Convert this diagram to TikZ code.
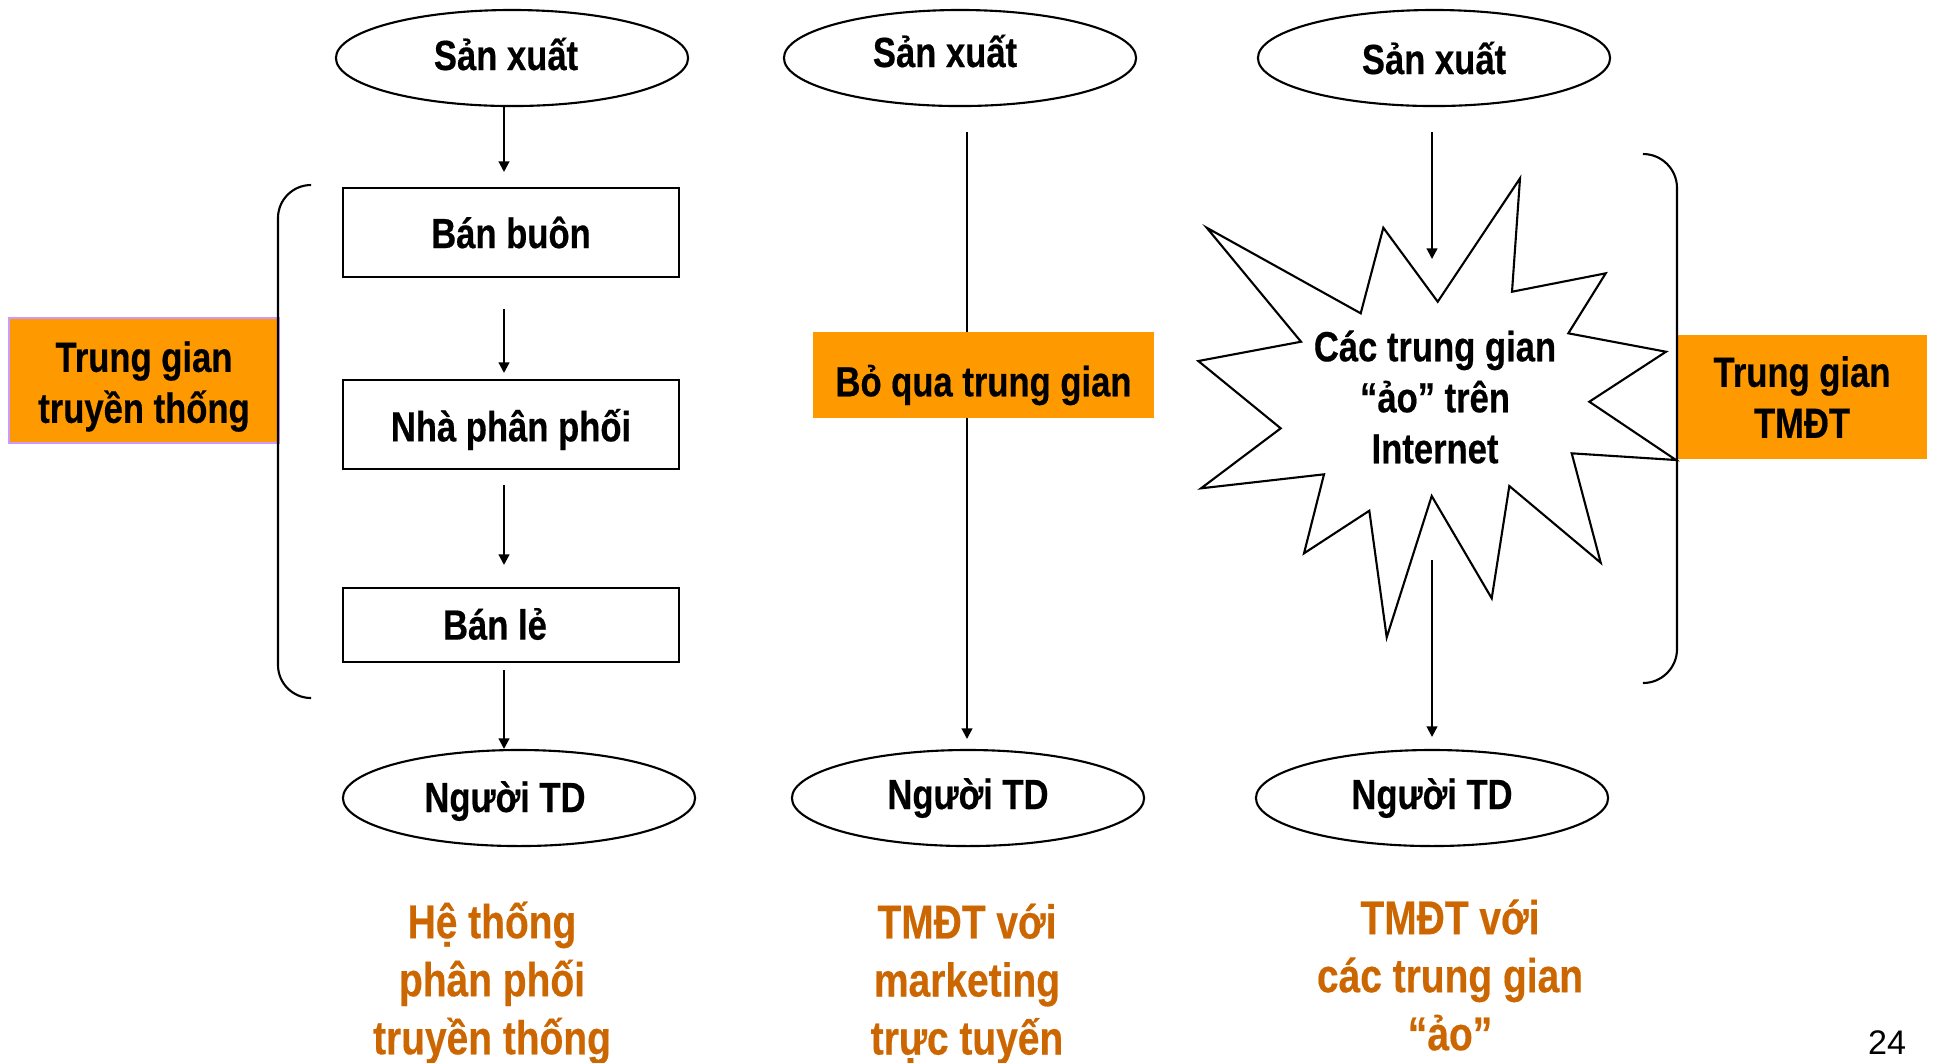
\documentclass[tikz,border=0pt]{standalone}
\usepackage{fontspec}
\setmainfont{Liberation Sans}
\newfontfamily\narrowfont{Liberation Sans}[FakeStretch=0.82, BoldFeatures={FakeBold=0.4}]
\usetikzlibrary{shapes.geometric,arrows.meta,calc}
\definecolor{boxorange}{HTML}{FF9900}
\definecolor{labelbrown}{HTML}{CC6600}
\definecolor{lilac}{HTML}{CC99FF}

\begin{document}
\begin{tikzpicture}[x=0.01cm,y=-0.01cm,
  every node/.style={inner sep=0pt, outer sep=0pt},
  txt/.style={font=\narrowfont\bfseries\fontsize{12}{14.5}\selectfont, align=center},
  endpoint/.style={txt, draw, line width=0.6pt, ellipse, minimum width=3.52cm, minimum height=0.96cm},
  stage/.style={txt, draw, line width=0.6pt, rectangle, minimum width=3.36cm},
  tag/.style={txt, fill=boxorange},
  caption/.style={font=\narrowfont\bfseries\fontsize{13.5}{16.5}\selectfont, align=center, text=labelbrown},
  arr/.style={line width=0.6pt, -{Triangle[length=3pt,width=3pt]}},
  thinline/.style={line width=0.6pt}
]
% page area
\fill[white] (0,0) rectangle (1937,1062);
\useasboundingbox (0,0) rectangle (1937,1062);

% producers and consumers
\node[endpoint] (P1) at (512,58) {};
\node[txt] (P1text) at ($(P1.center)+(-6,-4)$) {Sản xuất};
\node[endpoint] (P2) at (960,58) {};
\node[txt] (P2text) at ($(P2.center)+(-15,-7)$) {Sản xuất};
\node[endpoint] (P3) at (1434,58) {Sản xuất};
\node[endpoint] (C1) at (519,798) {};
\node[txt] (C1text) at ($(C1.center)+(-14,3)$) {Người TD};
\node[endpoint] (C2) at (968,798) {Người TD};
\node[endpoint] (C3) at (1432,798) {Người TD};

% traditional chain
\node[stage, minimum height=0.89cm] (B1) at (511,232.5) {Bán buôn};
\node[stage, minimum height=0.89cm] (B2) at (511,424.5) {};
\node[txt] (B2text) at ($(B2.center)+(0,5)$) {Nhà phân phối};
\node[stage, minimum height=0.74cm] (B3) at (511,625) {};
\node[txt] (B3text) at ($(B3.center)+(-16,-1)$) {Bán lẻ};

\draw[arr] ($(P1.south)+(-8,0)$) -- ($(B1.north)+(-7,-16)$);
\draw[arr] ($(B1.south)+(-7,32)$) -- ($(B2.north)+(-7,-7)$);
\draw[arr] ($(B2.south)+(-7,16)$) -- ($(B3.north)+(-7,-23)$);
\draw[arr] ($(B3.south)+(-7,8)$) -- ($(C1.north)+(-15,-1)$);

% direct channel
\draw[arr] ($(P2.south)+(7,26)$) -- ($(C2.north)+(-1,-11)$);
\node[tag, minimum width=3.41cm, minimum height=0.86cm] (T2) at (983.5,375) {};
\node[txt] (T2text) at ($(T2.center)+(0,10)$) {Bỏ qua trung gian};

% virtual intermediaries
\draw[thinline, fill=white, line join=miter]
  (1520.0,178.3) -- (1512.0,291.7) -- (1605.7,273.3) -- (1568.3,333.3)
  -- (1666.0,351.7) -- (1589.3,401.7) -- (1676.0,460.0) -- (1571.7,453.3)
  -- (1600.7,562.7) -- (1509.3,486.0) -- (1491.7,598.3) -- (1431.7,496.0)
  -- (1386.7,637.3) -- (1369.3,510.7) -- (1304.0,553.3) -- (1324.0,474.3)
  -- (1201.0,488.3) -- (1280.7,428.3) -- (1198.3,361.0) -- (1301.0,341.7)
  -- (1206.7,227.7) -- (1360.7,313.3) -- (1383.3,227.7) -- (1437.7,301.7)
  -- cycle;
\node[txt] (burst) at (1435,397) {Các trung gian\\“ảo” trên\\Internet};
\coordinate (burstTop) at (1432,259);
\coordinate (burstBottom) at (1432,560);
\draw[arr] ($(P3.south)+(-2,26)$) -- (burstTop);
\draw[arr] (burstBottom) -- ($(C3.north)+(0,-13)$);

% side tags and brackets
\node[tag, draw=lilac, line width=0.8pt, minimum width=2.7cm, minimum height=1.25cm] (T1) at (144,380.5) {};
\node[txt] (T1text) at ($(T1.center)+(0,6)$) {Trung gian\\truyền thống};
\node[tag, minimum width=2.5cm, minimum height=1.24cm] (T3) at (1802,397) {Trung gian\\TMĐT};
\draw[thinline, rounded corners=0.33cm] (311,185) -- (278,185) -- (278,698) -- (311,698);
\draw[thinline, rounded corners=0.34cm] (1643,154) -- (1677,154) -- (1677,683) -- (1643,683);

% captions
\node[caption] (L1) at (492,983) {Hệ thống\\phân phối\\truyền thống};
\node[caption] (L2) at (967,984) {TMĐT với\\marketing\\trực tuyến};
\node[caption] (L3) at (1450,975) {TMĐT với\\các trung gian\\“ảo”};

% slide number
\node[font=\fontsize{9.7}{11}\selectfont, anchor=base] (pg) at (1887,1054) {24};
\end{tikzpicture}
\end{document}
